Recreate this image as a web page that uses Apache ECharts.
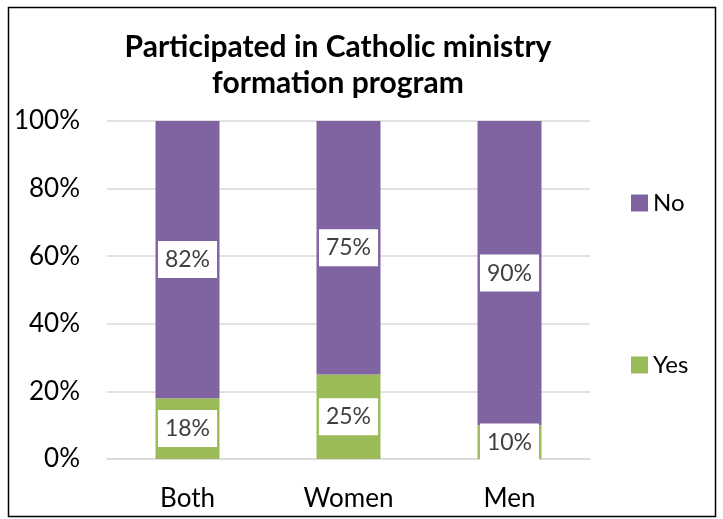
<!DOCTYPE html>
<html><head><meta charset="utf-8">
<script src="https://cdn.jsdelivr.net/npm/echarts@6/dist/echarts.min.js"></script>
<style>html,body{margin:0;padding:0;background:#fff}#c{width:723px;height:519px}</style>
</head><body><div id="c"></div>
<script>
const categories = ["Both", "Women", "Men"];
const yesValues = [18, 25, 10];
const noValues = [82, 75, 90];
const yTicks = [0, 20, 40, 60, 80, 100];
const titleText = "Participated in Catholic ministry\nformation program";
const FONT = "Lato, Carlito, Calibri, sans-serif";

const chart = echarts.init(document.getElementById('c'), null, {renderer: 'canvas'});
const lbl = {
  show: true, position: 'inside', formatter: p => p.value + '%',
  backgroundColor: '#fff', color: '#404040', fontFamily: FONT, fontSize: 23,
  padding: [8, 7, 6, 7]
};
chart.setOption({
  animation: false,
  title: {text: titleText, left: 333, top: 24, textAlign: 'center',
    textStyle: {fontFamily: FONT, fontWeight: 'bold', fontSize: 30, color: '#000', lineHeight: 36}},
  graphic: [{type: 'rect', shape: {x: 8.5, y: 7.5, width: 707, height: 509}, style: {fill: 'none', stroke: '#000', lineWidth: 1.5}, silent: true}],
  legend: [
    {data: ['No'], left: 626, top: 186, itemWidth: 17, itemHeight: 17, icon: 'rect',
      textStyle: {fontFamily: FONT, fontSize: 24, color: '#000'}},
    {data: ['Yes'], left: 626, top: 348, itemWidth: 17, itemHeight: 17, icon: 'rect',
      textStyle: {fontFamily: FONT, fontSize: 24, color: '#000'}}
  ],
  grid: {left: 107, right: 133, top: 121, bottom: 60, containLabel: false},
  xAxis: {type: 'category', data: categories,
    axisLine: {lineStyle: {color: '#D9D9D9', width: 1.5}}, axisTick: {show: false},
    axisLabel: {fontFamily: FONT, fontSize: 26, color: '#000', margin: 27}},
  yAxis: {type: 'value', min: 0, max: 100, interval: 20,
    axisLabel: {formatter: v => yTicks.includes(v) ? v + '%' : '', fontFamily: FONT, fontSize: 26, color: '#000', margin: 27},
    splitLine: {lineStyle: {color: '#D9D9D9', width: 1.5}}, axisLine: {show: false}, axisTick: {show: false}},
  series: [
    {name: 'Yes', type: 'bar', stack: 's', data: yesValues, barWidth: 64, itemStyle: {color: '#9BBB59'}, label: lbl},
    {name: 'No', type: 'bar', stack: 's', data: noValues, barWidth: 64, itemStyle: {color: '#8064A2'}, label: lbl}
  ]
});
</script></body></html>
